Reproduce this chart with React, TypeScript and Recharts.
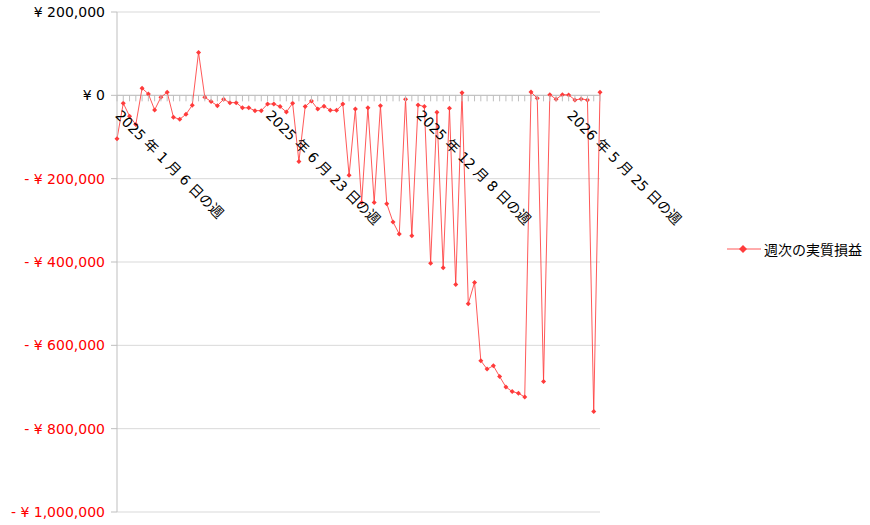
import React from 'react';
import { LineChart, Line, XAxis, YAxis, CartesianGrid, ReferenceLine } from 'recharts';

// weekly buckets (Monday of each week)
const weeks = [
  "2025-01-06", "2025-01-13", "2025-01-20", "2025-01-27", "2025-02-03", "2025-02-10", "2025-02-17", "2025-02-24",
  "2025-03-03", "2025-03-10", "2025-03-17", "2025-03-24", "2025-03-31", "2025-04-07", "2025-04-14", "2025-04-21",
  "2025-04-28", "2025-05-05", "2025-05-12", "2025-05-19", "2025-05-26", "2025-06-02", "2025-06-09", "2025-06-16",
  "2025-06-23", "2025-06-30", "2025-07-07", "2025-07-14", "2025-07-21", "2025-07-28", "2025-08-04", "2025-08-11",
  "2025-08-18", "2025-08-25", "2025-09-01", "2025-09-08", "2025-09-15", "2025-09-22", "2025-09-29", "2025-10-06",
  "2025-10-13", "2025-10-20", "2025-10-27", "2025-11-03", "2025-11-10", "2025-11-17", "2025-11-24", "2025-12-01",
  "2025-12-08", "2025-12-15", "2025-12-22", "2025-12-29", "2026-01-05", "2026-01-12", "2026-01-19", "2026-01-26",
  "2026-02-02", "2026-02-09", "2026-02-16", "2026-02-23", "2026-03-02", "2026-03-09", "2026-03-16", "2026-03-23",
  "2026-03-30", "2026-04-06", "2026-04-13", "2026-04-20", "2026-04-27", "2026-05-04", "2026-05-11", "2026-05-18",
  "2026-05-25", "2026-06-01", "2026-06-08", "2026-06-15", "2026-06-22", "2026-06-29",
];

const weeklyPnl = [
  -104000, -19000, -50000, -70000, 17000, 3400, -35000, -4600, 7400, -52600,
  -57400, -45400, -23800, 103000, -4600, -15000, -24700, -9400, -17500, -17500,
  -30000, -30000, -36700, -36700, -21000, -20600, -27000, -40000, -19000, -159000,
  -27000, -13400, -33000, -26000, -36000, -36000, -21000, -192000, -33000, -257000,
  -30000, -257000, -25000, -260000, -304000, -333000, -9400, -337000, -23000, -27000,
  -403000, -40600, -414000, -31000, -454000, 6500, -500000, -449000, -637000, -657000,
  -649000, -675000, -700000, -711000, -715000, -724000, 8000, -7000, -687000, 1700,
  -9400, 1700, 1000, -11000, -8600, -11000, -759000, 7400,
];

const yTicks = [-1000000, -800000, -600000, -400000, -200000, 0, 200000];
const seriesName = "週次の実質損益";
const labelEvery = 24;

const data = weeks.map((w, i) => ({ week: w, pnl: weeklyPnl[i] }));

const W = 870;
const H = 525;
const TOP = 12;
const BOTTOM = 12;
const X_H = 1;
const LEFT = 117;
const RIGHT = 270;
const Y_MIN = -1000000;
const Y_MAX = 200000;
const zeroY = TOP + (H - TOP - BOTTOM - X_H) * (Y_MAX / (Y_MAX - Y_MIN));

const RED = "#ff3b3b";
const AXIS = "#bfbfbf";
const FONT = "'DejaVu Sans', 'Noto Sans CJK JP', sans-serif";

const fmtWeek = (s: string) => {
  const [y, m, d] = s.split("-").map(Number);
  return `${y} 年 ${m} 月 ${d} 日の週`;
};

const fmtYen = (v: number) => `${v < 0 ? "- " : ""}¥ ${Math.abs(v).toLocaleString("en-US")}`;

const YTick = (props: any) => {
  const { x, y, payload } = props;
  const v = payload.value as number;
  return (
    <text x={x - 4} y={y} dy={5} textAnchor="end" fontSize={14} fontFamily={FONT} fill={v < 0 ? "#ff0000" : "#000"}>
      {fmtYen(v)}
    </text>
  );
};

// x axis crosses at 0, so ticks and labels are drawn at zeroY
const XTick = (props: any) => {
  const { x, index, payload } = props;
  const ax = x - 2.5;
  const ay = zeroY + 21;
  return (
    <g>
      <line x1={x} x2={x} y1={zeroY} y2={zeroY + 6} stroke={AXIS} />
      {index % labelEvery === 0 && (
        <text x={ax} y={ay} fontSize={14} fontFamily={FONT} fill="#000" textAnchor="start" transform={`rotate(45, ${ax}, ${ay})`}>
          {fmtWeek(payload.value)}
        </text>
      )}
    </g>
  );
};

const Diamond = (props: any) => {
  const { cx, cy } = props;
  if (cx == null || cy == null) return null;
  const r = 2.5;
  return <path d={`M${cx},${cy - r}L${cx + r},${cy}L${cx},${cy + r}L${cx - r},${cy}Z`} fill={RED} />;
};

export default function App() {
  return (
    <div style={{ position: 'absolute', left: 0, top: 0, width: W, height: H, background: '#fff' }}>
      <LineChart width={W} height={H} data={data} margin={{ top: TOP, right: RIGHT, bottom: BOTTOM, left: 0 }}>
        <CartesianGrid vertical={false} stroke="#d9d9d9" />
        <YAxis
          width={LEFT}
          domain={[Y_MIN, Y_MAX]}
          ticks={yTicks}
          allowDataOverflow
          stroke={AXIS}
          tickLine={{ stroke: AXIS }}
          tick={<YTick />}
        />
        <YAxis yAxisId="border" orientation="right" width={0} domain={[Y_MIN, Y_MAX]} tick={false} tickLine={false} stroke={AXIS} />
        <ReferenceLine y={0} stroke={AXIS} />
        <XAxis dataKey="week" height={X_H} axisLine={false} tickLine={false} interval={0} tick={XTick} />
        <Line
          name={seriesName}
          dataKey="pnl"
          type="linear"
          stroke={RED}
          strokeOpacity={0.85}
          strokeWidth={1}
          dot={<Diamond />}
          activeDot={false}
          isAnimationActive={false}
        />
      </LineChart>
      <div style={{ position: 'absolute', left: 727, top: 239, display: 'flex', alignItems: 'center', fontFamily: FONT, fontSize: 14 }}>
        <svg width={34} height={20}>
          <line x1={0} x2={34} y1={10} y2={10} stroke={RED} strokeOpacity={0.85} />
          <path d="M16,6L20,10L16,14L12,10Z" fill={RED} />
        </svg>
        <span style={{ marginLeft: 3 }}>{seriesName}</span>
      </div>
    </div>
  );
}
